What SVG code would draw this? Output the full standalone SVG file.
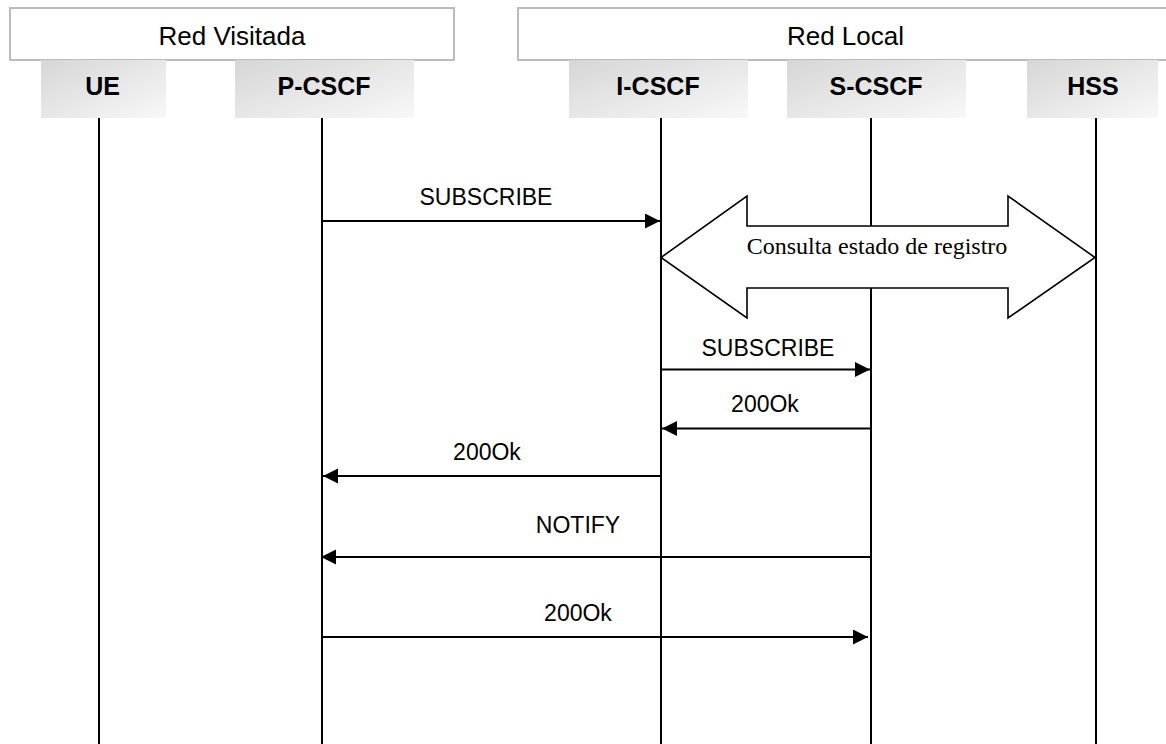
<svg xmlns="http://www.w3.org/2000/svg" width="1166" height="744" viewBox="0 0 1166 744">
  <style>
    .region { fill: #ffffff; stroke: #bcbcbc; stroke-width: 2; }
    .region-label { font-family: "Liberation Sans", Arial, sans-serif; font-size: 26px; fill: #000; text-anchor: middle; }
    .actor { fill: url(#actorFill); }
    .actor-label { font-family: "Liberation Sans", Arial, sans-serif; font-size: 25px; font-weight: bold; fill: #000; text-anchor: middle; }
    .lifeline { stroke: #000; stroke-width: 2; }
    .msg { stroke: #000; stroke-width: 2; fill: none; marker-end: url(#arrow); }
    .msg-label { font-family: "Liberation Sans", Arial, sans-serif; font-size: 23px; fill: #000; text-anchor: middle; }
    .block { fill: #ffffff; stroke: #000; stroke-width: 1.6; stroke-linejoin: miter; }
    .block-label { font-family: "Liberation Serif", "Times New Roman", serif; font-size: 24px; fill: #000; text-anchor: middle; }
  </style>
  <defs>
    <linearGradient id="actorFill" x1="0" y1="0" x2="1" y2="1">
      <stop offset="0" stop-color="#d6d6d6"/>
      <stop offset="1" stop-color="#f8f8f8"/>
    </linearGradient>
    <marker id="arrow" markerUnits="userSpaceOnUse" markerWidth="16" markerHeight="16" refX="15" refY="7.5" orient="auto">
      <path d="M0,0 L15,7.5 L0,15 Z" fill="#000"/>
    </marker>
  </defs>

  <rect width="1166" height="744" fill="#ffffff"/>

  <!-- network domains -->
  <g id="red-visitada">
    <rect class="region" x="10" y="8" width="444" height="52"/>
    <text class="region-label" x="232" y="44.5">Red Visitada</text>
  </g>
  <g id="red-local">
    <rect class="region" x="518" y="8" width="660" height="52"/>
    <text class="region-label" x="845.5" y="44.5">Red Local</text>
  </g>

  <!-- participants with lifelines -->
  <g id="ue">
    <rect class="actor" x="41" y="60" width="125" height="58"/>
    <text class="actor-label" x="102.5" y="95">UE</text>
    <line class="lifeline" x1="99" y1="118" x2="99" y2="744"/>
  </g>
  <g id="p-cscf">
    <rect class="actor" x="235" y="60" width="179" height="58"/>
    <text class="actor-label" x="324" y="95">P-CSCF</text>
    <line class="lifeline" x1="322" y1="118" x2="322" y2="744"/>
  </g>
  <g id="i-cscf">
    <rect class="actor" x="569" y="60" width="179" height="58"/>
    <text class="actor-label" x="658" y="95">I-CSCF</text>
    <line class="lifeline" x1="661" y1="118" x2="661" y2="744"/>
  </g>
  <g id="s-cscf">
    <rect class="actor" x="787" y="60" width="179" height="58"/>
    <text class="actor-label" x="876" y="95">S-CSCF</text>
    <line class="lifeline" x1="871" y1="118" x2="871" y2="744"/>
  </g>
  <g id="hss">
    <rect class="actor" x="1027" y="60" width="131" height="58"/>
    <text class="actor-label" x="1093" y="95">HSS</text>
    <line class="lifeline" x1="1096" y1="118" x2="1096" y2="744"/>
  </g>

  <!-- registration state query between I-CSCF and HSS -->
  <g id="consulta-estado">
    <path class="block" d="M661,257.5 L747,196 L747,226 L1008,226 L1008,196 L1095,257.5 L1008,318 L1008,288 L747,288 L747,318 Z"/>
    <text class="block-label" x="877" y="254">Consulta estado de registro</text>
  </g>

  <!-- messages -->
  <g id="connectors">
    <line class="msg" x1="322" y1="221" x2="660" y2="221"/>
    <text class="msg-label" x="486" y="205">SUBSCRIBE</text>

    <line class="msg" x1="661" y1="369.5" x2="870" y2="369.5"/>
    <text class="msg-label" x="768" y="356">SUBSCRIBE</text>

    <line class="msg" x1="871" y1="428.5" x2="662" y2="428.5"/>
    <text class="msg-label" x="765" y="412">200Ok</text>

    <line class="msg" x1="661" y1="476" x2="323" y2="476"/>
    <text class="msg-label" x="487" y="460">200Ok</text>

    <line class="msg" x1="871" y1="557" x2="321" y2="557"/>
    <text class="msg-label" x="578" y="533">NOTIFY</text>

    <line class="msg" x1="322" y1="637" x2="868" y2="637"/>
    <text class="msg-label" x="578" y="621">200Ok</text>
  </g>
</svg>
